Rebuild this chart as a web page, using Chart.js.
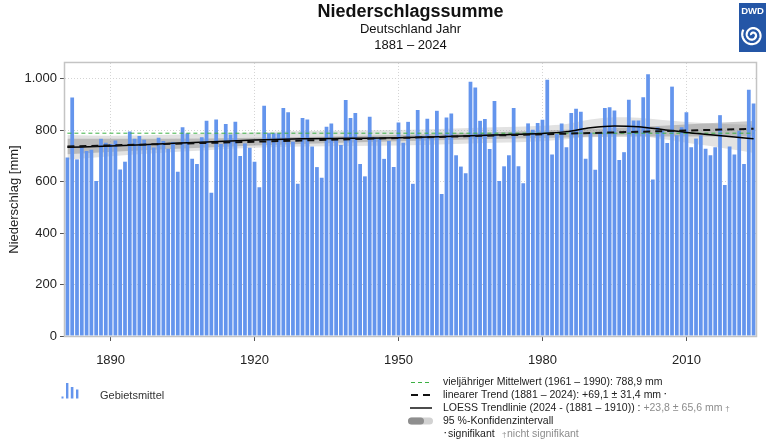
<!DOCTYPE html>
<html><head><meta charset="utf-8">
<script src="https://cdn.jsdelivr.net/npm/chart.js@4.4.1/dist/chart.umd.min.js"></script>
<style>html,body{margin:0;padding:0;background:#fff}#wrap{width:768px;height:443px;position:relative}</style>
</head><body><div id="wrap"><canvas id="c" width="768" height="443"></canvas></div>
<script>
// ---------- data ----------
const years = [];
for (let y = 1881; y <= 2024; y++) years.push(String(y));

const precipitation = [
  694, 928, 687, 734, 720, 724, 603, 767, 752, 747, 760, 648, 678, 795, 767, 778, 763, 747, 733, 771, 759, 728, 755, 639,
  812, 789, 689, 669, 773, 837, 557, 842, 747, 825, 784, 833, 700, 749, 732, 678, 579, 896, 789, 789, 789, 887, 870, 756,
  592, 848, 842, 737, 657, 616, 814, 827, 769, 743, 918, 848, 867, 669, 621, 853, 773, 767, 689, 759, 657, 830, 752, 833,
  592, 879, 778, 845, 778, 876, 552, 850, 865, 703, 659, 633, 989, 967, 837, 844, 727, 914, 603, 660, 703, 887, 660, 594,
  827, 802, 829, 841, 997, 706, 786, 827, 734, 867, 884, 872, 689, 791, 647, 791, 887, 890, 877, 685, 715, 919, 838, 838,
  929, 1018, 609, 812, 799, 751, 970, 781, 812, 870, 734, 768, 781, 728, 703, 734, 859, 587, 737, 706, 798, 669, 958, 904
];

const tickYears = ['1890', '1920', '1950', '1980', '2010'];
const yTickValues = [0, 200, 400, 600, 800, 1000];

const meanYears = ['1881', '2024'];
const meanValues = [788.9, 788.9];

const trendYears = ['1881', '2024'];
const trendValues = [737, 806];

const trendCIYears = ['1881', '1900', '1920', '1952', '1985', '2005', '2024'];
const trendCIUpper = [767, 767, 771, 783, 802, 818, 836];
const trendCILower = [707, 725, 741, 759, 772, 776, 776];

const loessYears = ['1881', '1890', '1900', '1910', '1920', '1930', '1940', '1950', '1960', '1970',
                    '1980', '1985', '1990', '1995', '2000', '2005', '2010', '2015', '2020', '2024'];
const loessValues = [734, 739, 747, 755, 762, 767, 769, 771, 776, 782, 788, 795, 810, 817, 814, 803, 792, 783, 774, 767];
const loessCIUpper = [782, 779, 782, 787, 792, 797, 799, 801, 806, 812, 818, 825, 842, 851, 849, 840, 832, 827, 824, 822];
const loessCILower = [686, 699, 712, 723, 732, 737, 739, 741, 746, 752, 758, 765, 778, 783, 779, 766, 752, 739, 724, 712];

// ---------- helpers ----------
const pts = (xs, ys) => xs.map((x, i) => ({ x: x, y: ys[i] }));
const FONT = "'Liberation Sans', Arial, Helvetica, sans-serif";
const BAR_COLOR = '#6495ED';

const framePlugin = {
  id: 'frame',
  afterDatasetsDraw(chart) {
    const a = chart.chartArea, ctx = chart.ctx;
    ctx.save();
    ctx.strokeStyle = '#c4c4c4';
    ctx.lineWidth = 1.5;
    ctx.strokeRect(a.left - 0.5, a.top - 0.5, a.right - a.left + 1, a.bottom - a.top + 1);
    ctx.restore();
  }
};

const legendPlugin = {
  id: 'customLegend',
  afterDraw(chart) {
    const ctx = chart.ctx;
    ctx.save();
    ctx.textBaseline = 'middle';
    ctx.textAlign = 'left';
    // left: Gebietsmittel
    ctx.fillStyle = BAR_COLOR;
    const icon = [[61.5, 2, 2], [66, 2.4, 15.5], [70.8, 2.6, 11.5], [76, 2.4, 9]];
    icon.forEach(b => ctx.fillRect(b[0], 398.5 - b[2], b[1], b[2]));
    ctx.fillStyle = '#333';
    ctx.font = '11px ' + FONT;
    ctx.fillText('Gebietsmittel', 100, 396);

    const x0 = 411, x1 = 431, tx = 443;
    const rows = [382, 395, 408, 421, 434];
    ctx.font = '10.5px ' + FONT;
    // row 1
    ctx.strokeStyle = '#3cb043'; ctx.lineWidth = 1; ctx.setLineDash([4, 3]);
    ctx.beginPath(); ctx.moveTo(x0, rows[0] + 0.5); ctx.lineTo(x1, rows[0] + 0.5); ctx.stroke();
    ctx.fillStyle = '#222';
    ctx.fillText('vieljähriger Mittelwert (1961 – 1990): 788,9 mm', tx, rows[0]);
    // row 2
    ctx.strokeStyle = '#111'; ctx.lineWidth = 2; ctx.setLineDash([7, 5]);
    ctx.beginPath(); ctx.moveTo(x0, rows[1]); ctx.lineTo(x1 + 1, rows[1]); ctx.stroke();
    let t = 'linearer Trend (1881 – 2024): +69,1 ± 31,4 mm ';
    ctx.fillText(t, tx, rows[1]);
    let w = ctx.measureText(t).width;
    ctx.font = 'bold 9px ' + FONT;
    ctx.fillText('·', tx + w, rows[1]);
    // row 3
    ctx.font = '10.5px ' + FONT;
    ctx.setLineDash([]); ctx.lineWidth = 1.5;
    ctx.beginPath(); ctx.moveTo(x0 - 1, rows[2]); ctx.lineTo(x1 + 1, rows[2]); ctx.stroke();
    t = 'LOESS Trendlinie (2024 - (1881 – 1910)) : ';
    ctx.fillText(t, tx, rows[2]);
    w = ctx.measureText(t).width;
    ctx.fillStyle = '#8c8c8c';
    const t2 = '+23,8 ± 65,6 mm ';
    ctx.fillText(t2, tx + w, rows[2]);
    const w2 = ctx.measureText(t2).width;
    ctx.font = '8px ' + FONT;
    ctx.fillText('†', tx + w + w2, rows[2] + 1);
    // row 4 pill
    ctx.fillStyle = '#d2d2d2';
    ctx.beginPath(); ctx.roundRect(x0 - 3, rows[3] - 3.5, 25, 7, 3.5); ctx.fill();
    ctx.fillStyle = '#8e8e8e';
    ctx.beginPath(); ctx.roundRect(x0 - 3, rows[3] - 3.5, 16, 7, 3.5); ctx.fill();
    ctx.fillStyle = '#222';
    ctx.font = '10.5px ' + FONT;
    ctx.fillText('95 %-Konfidenzintervall', tx, rows[3]);
    // row 5
    ctx.font = 'bold 9px ' + FONT;
    ctx.fillText('·', tx + 1, rows[4]);
    ctx.font = '10.5px ' + FONT;
    ctx.fillText('signifikant', tx + 5, rows[4]);
    ctx.fillStyle = '#8c8c8c';
    ctx.font = '8px ' + FONT;
    ctx.fillText('†', 502, rows[4] + 1);
    ctx.font = '10.5px ' + FONT;
    ctx.fillText('nicht signifikant', 507, rows[4]);
    ctx.restore();
  }
};

const logoPlugin = {
  id: 'dwdLogo',
  afterDraw(chart) {
    const ctx = chart.ctx;
    ctx.save();
    ctx.fillStyle = '#2456a6';
    ctx.fillRect(739, 3, 27, 49);
    ctx.fillStyle = '#fff';
    ctx.font = 'bold 9.5px ' + FONT;
    ctx.textAlign = 'center'; ctx.textBaseline = 'middle';
    ctx.fillText('DWD', 752.5, 11.5);
    ctx.strokeStyle = '#fff'; ctx.lineWidth = 2.2;
    ctx.beginPath();
    const cx = 752.5, cy = 35;
    for (let a = 0; a <= Math.PI * 4.2; a += 0.1) {
      const r = 1.2 + a * 0.72;
      const px = cx + r * Math.cos(a + Math.PI), py = cy + r * Math.sin(a + Math.PI);
      if (a === 0) ctx.moveTo(px, py); else ctx.lineTo(px, py);
    }
    ctx.stroke();
    ctx.restore();
  }
};

Chart.defaults.font.family = FONT;
Chart.defaults.color = '#222';

new Chart(document.getElementById('c'), {
  type: 'bar',
  data: {
    labels: years,
    datasets: [
      { type: 'bar', label: 'Gebietsmittel', data: precipitation, backgroundColor: BAR_COLOR,
        barPercentage: 0.78, categoryPercentage: 1.0, order: 5 },
      { type: 'line', label: 'Mittelwert', data: pts(meanYears, meanValues), borderColor: '#3cb043',
        borderWidth: 1, borderDash: [4, 3], pointRadius: 0, fill: false, order: 1 },
      { type: 'line', label: 'linearer Trend', data: pts(trendYears, trendValues), borderColor: '#111',
        borderWidth: 2, borderDash: [7, 5], pointRadius: 0, fill: false, order: 0 },
      { type: 'line', label: 'LOESS', data: pts(loessYears, loessValues), borderColor: '#000',
        borderWidth: 1.5, pointRadius: 0, fill: false, cubicInterpolationMode: 'monotone', order: 0 },
      { type: 'line', label: 'trendCIu', data: pts(trendCIYears, trendCIUpper), borderWidth: 0,
        borderColor: 'rgba(0,0,0,0)', backgroundColor: 'rgba(120,120,120,0.38)', pointRadius: 0,
        fill: '+1', cubicInterpolationMode: 'monotone', order: 10 },
      { type: 'line', label: 'trendCIl', data: pts(trendCIYears, trendCILower), borderWidth: 0,
        borderColor: 'rgba(0,0,0,0)', pointRadius: 0, fill: false, cubicInterpolationMode: 'monotone', order: 10 },
      { type: 'line', label: 'loessCIu', data: pts(loessYears, loessCIUpper), borderWidth: 0,
        borderColor: 'rgba(0,0,0,0)', backgroundColor: 'rgba(185,185,185,0.42)', pointRadius: 0,
        fill: '+1', cubicInterpolationMode: 'monotone', order: 11 },
      { type: 'line', label: 'loessCIl', data: pts(loessYears, loessCILower), borderWidth: 0,
        borderColor: 'rgba(0,0,0,0)', pointRadius: 0, fill: false, cubicInterpolationMode: 'monotone', order: 11 }
    ]
  },
  options: {
    responsive: false,
    devicePixelRatio: 1,
    animation: false,
    layout: { padding: { left: 0, right: 12, top: 0, bottom: 67 } },
    plugins: {
      legend: { display: false },
      tooltip: { enabled: false },
      title: { display: true, text: 'Niederschlagssumme', fullSize: false, color: '#111',
        font: { size: 18, weight: 'bold', lineHeight: 1.0 }, padding: { top: 3, bottom: 0 } },
      subtitle: { display: true, text: ['Deutschland Jahr', '1881 – 2024'], fullSize: false, color: '#111',
        font: { size: 13, lineHeight: 1.23 }, padding: { top: 0, bottom: 10 } }
    },
    scales: {
      x: {
        type: 'category',
        offset: true,
        afterFit(s) { s.height = 40; },
        grid: { offset: false, color: '#d4d4d4', tickColor: '#555', tickLength: 5, drawOnChartArea: true },
        border: { display: false, dash: [1, 2] },
        ticks: {
          autoSkip: false, maxRotation: 0, minRotation: 0, padding: 12,
          font: { size: 13 }, color: '#222',
          callback(v) { const l = this.getLabelForValue(v); return tickYears.includes(l) ? l : null; }
        }
      },
      y: {
        min: 0, max: 1062,
        afterFit(s) { s.width = 65; },
        afterBuildTicks(s) { s.ticks = yTickValues.map(v => ({ value: v })); },
        grid: { color: '#d4d4d4', tickColor: '#555', tickLength: 5 },
        border: { display: false, dash: [1, 2] },
        ticks: {
          padding: 3, font: { size: 13 }, color: '#222',
          callback(v) { return String(v).replace(/\B(?=(\d{3})+(?!\d))/g, '.'); }
        },
        title: { display: true, text: 'Niederschlag [mm]', font: { size: 13 }, color: '#222', padding: { top: 7, bottom: 0 } }
      }
    }
  },
  plugins: [framePlugin, legendPlugin, logoPlugin]
});
</script>
</body></html>
